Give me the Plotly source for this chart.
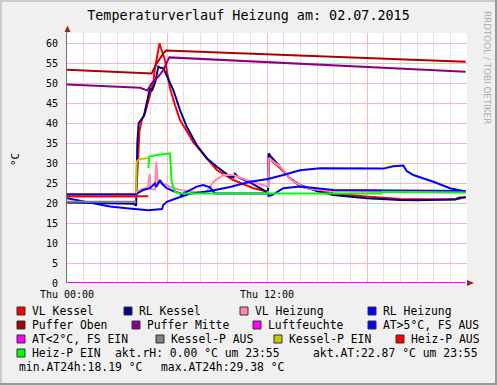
import plotly.graph_objects as go

TITLE = "Temperaturverlauf Heizung am: 02.07.2015"

# time in hours of 02.07.2015, values in °C
vl_kessel_t = [0, 4.15, 4.25, 4.35, 4.5, 4.68, 4.98, 5.18, 5.28, 5.4, 5.48, 5.55, 5.64, 5.76, 5.88, 6.0, 6.18, 6.48, 6.78, 7.18, 7.56, 7.98, 8.98, 9.98, 11.18, 12.06, 12.1, 12.78, 13.38, 13.98, 14.98, 15.98, 17.98, 19.98, 22.98, 23.5, 23.92]
vl_kessel_v = [21.7, 21.7, 30, 38, 41, 42.4, 47, 50.3, 53.7, 56.2, 57.8, 59.9, 58.7, 57.4, 55.75, 52.8, 48.7, 44.5, 40.75, 38, 35.3, 33.25, 28.25, 25.75, 23.7, 22.8, 31.2, 28.75, 26.2, 24.1, 23.25, 22.4, 21.6, 21.0, 20.9, 21.0, 21.6]

rl_kessel_t = [0, 4.0, 4.15, 4.22, 4.3, 4.45, 4.6, 4.8, 4.98, 5.1, 5.3, 5.48, 5.6, 5.78, 5.98, 6.38, 6.78, 7.18, 7.78, 8.38, 8.98, 9.78, 10.0, 10.08, 10.3, 11.08, 11.98, 12.06, 12.1, 12.2, 12.78, 13.38, 13.98, 14.98, 15.98, 17.98, 19.98, 21.0, 22.98, 23.3, 23.5, 23.92]
rl_kessel_v = [20.1, 19.8, 19.3, 35, 40, 40.75, 41.6, 45.3, 48.7, 48.0, 50.3, 54.1, 53.8, 53.7, 52.0, 48.25, 43.25, 39.1, 34.5, 31.2, 29.1, 26.6, 26.4, 27.3, 26.4, 24.9, 22.8, 22.5, 32.4, 31.8, 29.1, 26.2, 24.5, 23.0, 22.0, 21.2, 20.75, 20.7, 20.9, 20.9, 21.3, 21.4]

vl_heizung_t = [0, 4.15, 4.2, 4.5, 4.88, 4.95, 5.02, 5.28, 5.35, 5.45, 5.58, 5.98, 6.38, 6.98, 7.98, 8.38, 8.78, 9.38, 9.98, 10.78, 11.38, 12.06, 12.1, 12.78, 13.38, 13.78, 14.38, 15.18, 16.0, 18.0, 20.0, 23.92]
vl_heizung_v = [21.7, 21.7, 22.8, 23.5, 24.0, 27.2, 23.5, 23.4, 30.3, 24.9, 25.3, 24.5, 23.7, 23.1, 22.6, 22.8, 25.3, 27.0, 27.0, 25.75, 24.9, 24.1, 31.2, 29.1, 26.2, 24.9, 23.7, 23.25, 23.0, 22.8, 22.7, 22.6]

rl_heizung_t = [0, 4.15, 4.3, 4.58, 4.98, 5.28, 5.35, 5.58, 5.7, 5.98, 6.48, 6.8, 6.85, 6.98, 7.18, 7.78, 8.18, 8.58, 8.88, 9.38, 12.06, 12.1, 12.3, 12.98, 13.98, 15.98, 18.98, 23.92]
rl_heizung_v = [22.2, 22.2, 22.6, 23.25, 23.7, 24.9, 24.0, 25.75, 24.8, 23.7, 22.8, 22.4, 21.6, 22.4, 22.8, 24.1, 24.5, 23.9, 22.4, 22.4, 22.4, 21.75, 22.0, 23.7, 24.1, 23.25, 23.1, 23.0]

puffer_oben_t = [0, 2, 4, 5.08, 5.38, 5.78, 5.95, 12.06, 23.92]
puffer_oben_v = [53.3, 53.0, 52.6, 52.4, 54.9, 57.4, 58.1, 57.2, 55.3]

puffer_mitte_t = [0, 2, 4.4, 4.82, 5.08, 5.48, 5.78, 6.14, 12.06, 23.92]
puffer_mitte_v = [49.6, 49.3, 48.8, 48.1, 49.9, 51.6, 53.25, 56.4, 55.2, 52.8]

luftfeuchte_t = [0, 23.92]
luftfeuchte_v = [0, 0]

at_t = [0, 1.58, 2.58, 3.58, 4.2, 4.88, 5.38, 5.7, 5.78, 5.98, 6.58, 7.18, 7.38, 8.58, 9.78, 10.98, 12.06, 12.98, 13.98, 15.18, 16.98, 18.98, 19.58, 20.18, 20.38, 20.78, 21.98, 22.98, 23.78, 23.92]
at_v = [21.2, 19.9, 19.1, 18.7, 18.4, 18.19, 18.4, 18.5, 19.5, 20.3, 21.2, 22.0, 22.3, 23.0, 24.0, 25.3, 26.0, 27.0, 28.2, 28.7, 28.6, 28.6, 29.2, 29.38, 28.0, 27.0, 25.3, 23.7, 23.0, 22.87]

kessel_p_aus_t = [0, 4.15]
kessel_p_aus_v = [20.3, 20.3]

kessel_p_ein_t = [4.15, 4.18, 4.3, 4.88, 4.98]
kessel_p_ein_v = [22.4, 30.3, 30.9, 31.2, 31.3]

heiz_p_aus_t = [0, 4.88]
heiz_p_aus_v = [21.7, 21.7]

heiz_p_ein_t = [4.88, 4.94, 5.38, 5.98, 6.18, 6.28, 6.48, 6.78, 12.0, 12.06, 12.12, 18.85, 18.9, 23.92]
heiz_p_ein_v = [28.75, 31.6, 32.0, 32.4, 32.4, 25.3, 22.8, 22.4, 22.4, 22.9, 22.4, 22.4, 22.8, 22.6]

x_tick_vals = [0, 6, 12, 18, 24]
x_tick_text = ["Thu 00:00", "", "Thu 12:00", "", ""]

legend_rows = [
    [("VL Kessel", "#ff0000"), ("RL Kessel", "#000080"), ("VL Heizung", "#ff88aa"), ("RL Heizung", "#0000ff")],
    [("Puffer Oben", "#aa0000"), ("Puffer Mitte", "#880088"), ("Luftfeuchte", "#ff00ff"), ("AT>5°C, FS AUS", "#0000ff")],
    [("AT<2°C, FS EIN", "#ff00ff"), ("Kessel-P AUS", "#808080"), ("Kessel-P EIN", "#c8c800"), ("Heiz-P AUS", "#ff0000")],
    [("Heiz-P EIN", "#00ff00")],
]
info_line_1 = ["akt.rH: 0.00 °C um 23:55", "akt.AT:22.87 °C um 23:55"]
info_line_2 = ["min.AT24h:18.19 °C", "max.AT24h:29.38 °C"]

# ---- layout geometry (pixels) ----
W, H = 497, 385
PL, PR, PT, PB = 67, 467, 33, 283


def px(x):
    return (x - PL) / (PR - PL)


def py(y):
    return (PB - y) / (PB - PT)


MONO = "DejaVu Sans Mono"

fig = go.Figure()

series = [
    (vl_kessel_t, vl_kessel_v, "#ff0000"),
    (rl_kessel_t, rl_kessel_v, "#000080"),
    (vl_heizung_t, vl_heizung_v, "#ff88aa"),
    (rl_heizung_t, rl_heizung_v, "#0000ff"),
    (puffer_oben_t, puffer_oben_v, "#aa0000"),
    (puffer_mitte_t, puffer_mitte_v, "#880088"),
    (luftfeuchte_t, luftfeuchte_v, "#ff00ff"),
    (at_t, at_v, "#0000ff"),
    (kessel_p_aus_t, kessel_p_aus_v, "#808080"),
    (kessel_p_ein_t, kessel_p_ein_v, "#c8c800"),
    (heiz_p_aus_t, heiz_p_aus_v, "#ff0000"),
    (heiz_p_ein_t, heiz_p_ein_v, "#00ff00"),
]
for t, v, c in series:
    fig.add_trace(go.Scatter(x=t, y=v, mode="lines", line=dict(color=c, width=2),
                             showlegend=False, hoverinfo="skip", cliponaxis=False))

MGRID = "#f6b8b8"
fig.update_xaxes(range=[0, 24], tickmode="array", tickvals=x_tick_vals, ticktext=x_tick_text,
                 showgrid=True, gridcolor=MGRID, gridwidth=1, zeroline=False, showline=False,
                 ticks="", tickfont=dict(family=MONO, size=10, color="black"),
                 ticklabelstandoff=4,
                 minor=dict(tickmode="linear", tick0=0, dtick=1, showgrid=True,
                            gridcolor="#e2e2e2", gridwidth=1))
fig.update_yaxes(range=[0, 62.5], tickmode="linear", tick0=0, dtick=5,
                 showgrid=True, gridcolor=MGRID, gridwidth=1, zeroline=False,
                 showline=True, linecolor="#707070", linewidth=1,
                 ticks="", tickfont=dict(family=MONO, size=10, color="black"),
                 ticklabelstandoff=6)

shapes = []
# frame shading
shapes.append(dict(type="line", xref="paper", yref="paper", x0=px(0), x1=px(W), y0=py(1), y1=py(1), line=dict(color="#cbcbcb", width=2)))
shapes.append(dict(type="line", xref="paper", yref="paper", x0=px(1), x1=px(1), y0=py(0), y1=py(H), line=dict(color="#cbcbcb", width=2)))
shapes.append(dict(type="line", xref="paper", yref="paper", x0=px(0), x1=px(W), y0=py(H - 1), y1=py(H - 1), line=dict(color="#999999", width=2)))
shapes.append(dict(type="line", xref="paper", yref="paper", x0=px(W - 1), x1=px(W - 1), y0=py(0), y1=py(H), line=dict(color="#999999", width=2)))
# axis arrows
shapes.append(dict(type="line", xref="paper", yref="paper", x0=px(67), x1=px(67), y0=py(PT), y1=py(28), line=dict(color="#707070", width=1)))
shapes.append(dict(type="path", xref="paper", yref="paper",
                   path=f"M {px(64.5)} {py(32)} L {px(67.5)} {py(25.5)} L {px(70.5)} {py(32)} Z",
                   fillcolor="#a0201a", line=dict(color="#a0201a", width=0)))
shapes.append(dict(type="path", xref="paper", yref="paper",
                   path=f"M {px(467)} {py(280)} L {px(474)} {py(283)} L {px(467)} {py(286)} Z",
                   fillcolor="#a0201a", line=dict(color="#a0201a", width=0)))

annotations = []
# y title
annotations.append(dict(text="°C", xref="paper", yref="paper", x=px(15), y=py(160), showarrow=False,
                        textangle=-90, font=dict(family=MONO, size=11, color="black"),
                        xanchor="center", yanchor="middle"))
# watermark
annotations.append(dict(text="RRDTOOL / TOBI OETIKER", xref="paper", yref="paper", x=px(487.5), y=py(67.5),
                        showarrow=False, textangle=90, font=dict(family="DejaVu Sans", size=8.8, color="#b0b0b0"),
                        xanchor="center", yanchor="middle"))

# legend
sq_x = [[17, 124, 240, 368], [17, 132, 253, 368], [17, 156, 274, 396], [17]]
row_y = [311, 325, 339, 353]
LFONT = dict(family=MONO, size=11.4, color="black")
for r, row in enumerate(legend_rows):
    for c, (name, col) in enumerate(row):
        x0 = sq_x[r][c]
        y = row_y[r]
        shapes.append(dict(type="rect", xref="paper", yref="paper",
                           x0=px(x0), x1=px(x0 + 8), y0=py(y - 4), y1=py(y + 4),
                           fillcolor=col, line=dict(color="#333333", width=1)))
        annotations.append(dict(text=name, xref="paper", yref="paper", x=px(x0 + 13), y=py(y),
                                showarrow=False, xanchor="left", yanchor="middle", font=LFONT))
annotations.append(dict(text=info_line_1[0], xref="paper", yref="paper", x=px(112.5), y=py(353),
                        showarrow=False, xanchor="left", yanchor="middle", font=LFONT))
annotations.append(dict(text=info_line_1[1], xref="paper", yref="paper", x=px(311), y=py(353),
                        showarrow=False, xanchor="left", yanchor="middle", font=LFONT))
annotations.append(dict(text=info_line_2[0], xref="paper", yref="paper", x=px(16.5), y=py(367),
                        showarrow=False, xanchor="left", yanchor="middle", font=LFONT))
annotations.append(dict(text=info_line_2[1], xref="paper", yref="paper", x=px(159), y=py(367),
                        showarrow=False, xanchor="left", yanchor="middle", font=LFONT))

fig.update_layout(
    width=W, height=H,
    margin=dict(l=PL, r=W - PR, t=PT, b=H - PB),
    paper_bgcolor="#f0f0f0", plot_bgcolor="white",
    title=dict(text=TITLE, x=0.5, xanchor="center", y=1 - 15 / H, yanchor="middle",
               font=dict(family=MONO, size=13.4, color="black")),
    shapes=shapes, annotations=annotations,
    showlegend=False,
)

fig.write_html("out.html", config={"displayModeBar": False},
               post_script="document.body.style.margin='0px';document.body.style.padding='0px';")
